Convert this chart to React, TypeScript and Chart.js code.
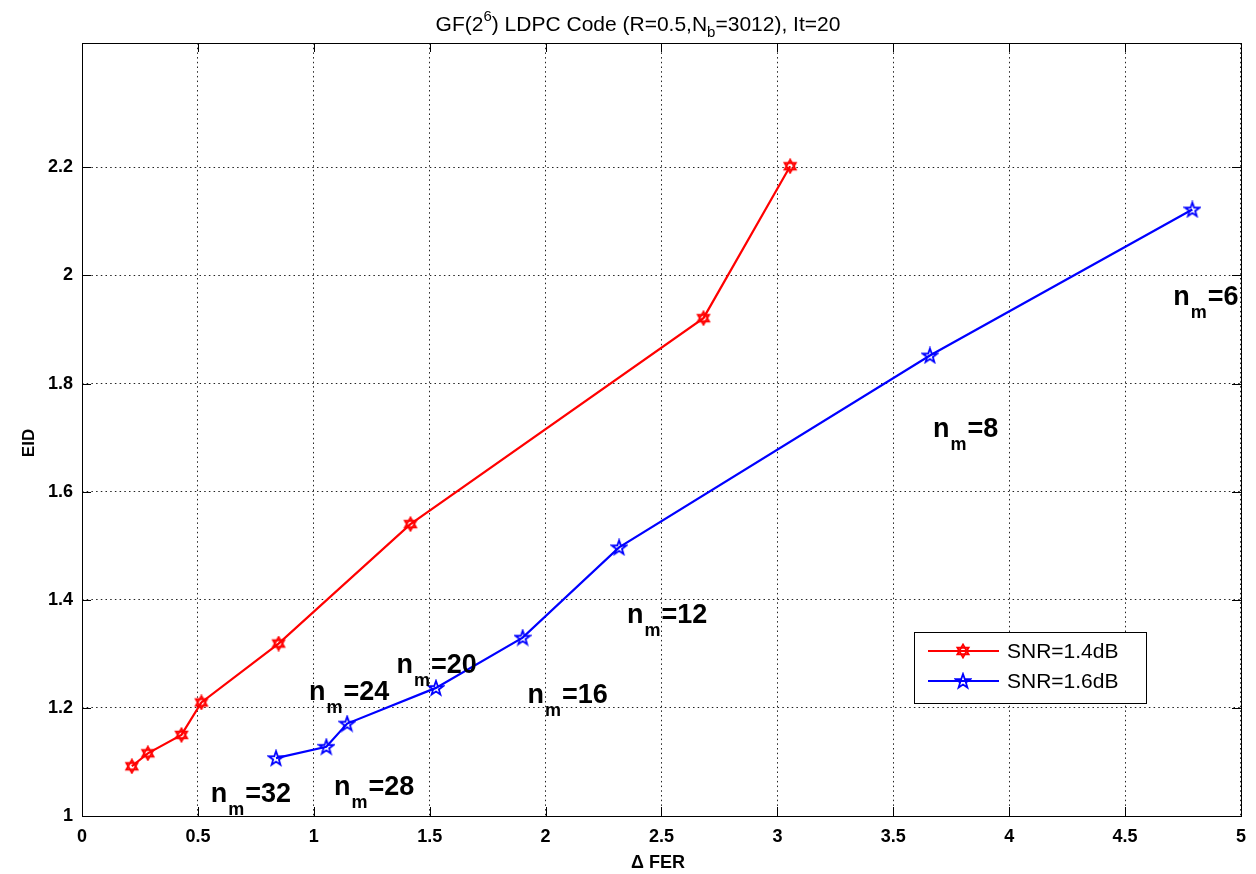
import React, { useEffect, useRef } from 'react';
import { Chart, registerables } from 'chart.js';

Chart.register(...registerables);

// ---- data ----
const seriesLabels = ['SNR=1.4dB', 'SNR=1.6dB'];
const snr14X = [0.215, 0.284, 0.429, 0.515, 0.848, 1.417, 2.681, 3.055];
const snr14Y = [1.092, 1.116, 1.15, 1.21, 1.319, 1.54, 1.921, 2.202];
const snr16X = [0.837, 1.054, 1.144, 1.527, 1.901, 2.317, 3.658, 4.79];
const snr16Y = [1.107, 1.128, 1.171, 1.237, 1.33, 1.497, 1.852, 2.122];

const nmLabels = ['32', '28', '24', '20', '16', '12', '8', '6'];
const nmX = [0.555, 1.087, 0.979, 1.357, 1.922, 2.351, 3.671, 4.708];
const nmY = [1.026, 1.039, 1.214, 1.264, 1.209, 1.357, 1.701, 1.945];

const xMin = 0;
const xMax = 5;
const xStep = 0.5;
const yMin = 1;
const yMax = 2.43;
const yStep = 0.2;
const yLastTick = 2.2;

const FONT = '"Liberation Sans", Arial, Helvetica, sans-serif';

function makeHexagram(color: string): HTMLCanvasElement {
  const c = document.createElement('canvas');
  c.width = 16;
  c.height = 16;
  const g = c.getContext('2d')!;
  g.strokeStyle = color;
  g.lineWidth = 1.8;
  const cx = 8, cy = 8, r = 6.5;
  for (let t = 0; t < 2; t++) {
    g.beginPath();
    for (let i = 0; i < 3; i++) {
      const a = -Math.PI / 2 + t * Math.PI + (i * 2 * Math.PI) / 3;
      const px = cx + r * Math.cos(a);
      const py = cy + r * Math.sin(a);
      if (i === 0) g.moveTo(px, py);
      else g.lineTo(px, py);
    }
    g.closePath();
    g.stroke();
  }
  return c;
}

function makePentagram(color: string): HTMLCanvasElement {
  const c = document.createElement('canvas');
  c.width = 18;
  c.height = 18;
  const g = c.getContext('2d')!;
  g.strokeStyle = color;
  g.lineWidth = 1.8;
  const cx = 9, cy = 9.5, ro = 7.5, ri = 3.0;
  g.beginPath();
  for (let i = 0; i < 10; i++) {
    const r = i % 2 === 0 ? ro : ri;
    const a = -Math.PI / 2 + (i * Math.PI) / 5;
    const px = cx + r * Math.cos(a);
    const py = cy + r * Math.sin(a);
    if (i === 0) g.moveTo(px, py);
    else g.lineTo(px, py);
  }
  g.closePath();
  g.stroke();
  return c;
}

export default function App() {
  const ref = useRef<HTMLCanvasElement | null>(null);

  useEffect(() => {
    document.body.style.margin = '0';
    const canvas = ref.current!;
    const redMarker = makeHexagram('#ff0000');
    const blueMarker = makePentagram('#0000ff');

    const decorPlugin = {
      id: 'decor',
      afterDraw(chart: any) {
        const ctx = chart.ctx as CanvasRenderingContext2D;
        const ca = chart.chartArea;
        const xs = chart.scales.x;
        const ys = chart.scales.y;
        ctx.save();

        // box
        ctx.strokeStyle = '#000';
        ctx.lineWidth = 1;
        ctx.strokeRect(ca.left + 0.5, ca.top + 0.5, ca.right - ca.left, ca.bottom - ca.top);

        // inward ticks
        const tl = 9;
        ctx.beginPath();
        xs.ticks.forEach((t: any) => {
          const px = Math.round(xs.getPixelForValue(t.value)) + 0.5;
          ctx.moveTo(px, ca.bottom);
          ctx.lineTo(px, ca.bottom - tl);
          ctx.moveTo(px, ca.top);
          ctx.lineTo(px, ca.top + tl);
        });
        ys.ticks.forEach((t: any) => {
          const py = Math.round(ys.getPixelForValue(t.value)) + 0.5;
          ctx.moveTo(ca.left, py);
          ctx.lineTo(ca.left + tl, py);
          ctx.moveTo(ca.right, py);
          ctx.lineTo(ca.right - tl, py);
        });
        ctx.stroke();

        ctx.fillStyle = '#000';
        ctx.textBaseline = 'alphabetic';

        // title with superscript / subscript
        const parts: [string, number, number][] = [
          ['GF(2', 21, 0],
          ['6', 15, -10],
          [') LDPC Code (R=0.5,N', 21, 0],
          ['b', 15, 6],
          ['=3012), It=20', 21, 0],
        ];
        let total = 0;
        parts.forEach(([s, f]) => {
          ctx.font = `${f}px ${FONT}`;
          total += ctx.measureText(s).width;
        });
        let tx = 638 - total / 2;
        const tBase = 31;
        ctx.textAlign = 'left';
        parts.forEach(([s, f, dy]) => {
          ctx.font = `${f}px ${FONT}`;
          ctx.fillText(s, tx, tBase + dy);
          tx += ctx.measureText(s).width;
        });

        // axis labels
        ctx.font = `bold 18px ${FONT}`;
        ctx.textAlign = 'center';
        ctx.fillText('\u0394 FER', 658, 868);
        ctx.save();
        ctx.translate(34, 443);
        ctx.rotate(-Math.PI / 2);
        ctx.font = `bold 17px ${FONT}`;
        ctx.fillText('EID', 0, 0);
        ctx.restore();

        // n_m annotations
        ctx.textAlign = 'left';
        nmLabels.forEach((lab, i) => {
          const x = xs.getPixelForValue(nmX[i]);
          const y = ys.getPixelForValue(nmY[i]);
          ctx.font = `bold 27px ${FONT}`;
          ctx.fillText('n', x, y);
          const wn = ctx.measureText('n').width;
          ctx.font = `bold 18px ${FONT}`;
          ctx.fillText('m', x + wn + 1, y + 13);
          const wm = ctx.measureText('m').width;
          ctx.font = `bold 27px ${FONT}`;
          ctx.fillText('=' + lab, x + wn + wm + 2, y);
        });

        // legend
        const lx0 = 914, ly0 = 632, lx1 = 1146, ly1 = 703;
        ctx.fillStyle = '#fff';
        ctx.fillRect(lx0, ly0, lx1 - lx0, ly1 - ly0);
        ctx.strokeStyle = '#000';
        ctx.lineWidth = 1;
        ctx.strokeRect(lx0 + 0.5, ly0 + 0.5, lx1 - lx0, ly1 - ly0);
        const rows = [651, 681];
        const cols = ['#ff0000', '#0000ff'];
        const marks = [redMarker, blueMarker];
        rows.forEach((ry, i) => {
          ctx.strokeStyle = cols[i];
          ctx.lineWidth = 2.2;
          ctx.beginPath();
          ctx.moveTo(928, ry);
          ctx.lineTo(999, ry);
          ctx.stroke();
          const m = marks[i];
          ctx.drawImage(m, 963 - m.width / 2, ry - m.height / 2);
          ctx.fillStyle = '#000';
          ctx.font = `21px ${FONT}`;
          ctx.textBaseline = 'middle';
          ctx.fillText(seriesLabels[i], 1007, ry + 1);
          ctx.textBaseline = 'alphabetic';
        });

        ctx.restore();
      },
    };

    const fmt = (v: number) => String(Number(Number(v).toFixed(2)));

    const chart = new Chart(canvas, {
      type: 'scatter',
      data: {
        datasets: [
          {
            label: seriesLabels[0],
            data: snr14X.map((x, i) => ({ x, y: snr14Y[i] })),
            showLine: true,
            borderColor: '#ff0000',
            borderWidth: 2.2,
            pointStyle: redMarker as any,
            pointRadius: 7,
            backgroundColor: '#ff0000',
          },
          {
            label: seriesLabels[1],
            data: snr16X.map((x, i) => ({ x, y: snr16Y[i] })),
            showLine: true,
            borderColor: '#0000ff',
            borderWidth: 2.2,
            pointStyle: blueMarker as any,
            pointRadius: 7,
            backgroundColor: '#0000ff',
          },
        ],
      },
      options: {
        animation: false,
        responsive: false,
        maintainAspectRatio: false,
        layout: { padding: { top: 43, right: 8, left: 0, bottom: 0 } },
        plugins: {
          legend: { display: false },
          title: { display: false },
          tooltip: { enabled: false },
        },
        scales: {
          x: {
            type: 'linear',
            min: xMin,
            max: xMax,
            ticks: {
              stepSize: xStep,
              autoSkip: false,
              maxRotation: 0,
              padding: 10,
              color: '#000',
              font: { family: FONT, size: 18, weight: 'bold' },
              callback: (v: any) => fmt(v),
            },
            grid: { color: '#222', lineWidth: 1, drawTicks: false },
            border: { display: false, dash: [1.5, 3.2] },
            afterFit: (s: any) => {
              s.height = 58;
            },
          },
          y: {
            type: 'linear',
            min: yMin,
            max: yMax,
            ticks: {
              stepSize: yStep,
              autoSkip: false,
              padding: 9,
              color: '#000',
              font: { family: FONT, size: 18, weight: 'bold' },
              callback: (v: any) => fmt(v),
            },
            afterBuildTicks: (s: any) => {
              s.ticks = s.ticks.filter((t: any) => t.value <= yLastTick + 1e-6);
            },
            grid: { color: '#222', lineWidth: 1, drawTicks: false },
            border: { display: false, dash: [1.5, 3.2] },
            afterFit: (s: any) => {
              s.width = 82;
            },
          },
        },
      },
      plugins: [decorPlugin],
    } as any);

    return () => chart.destroy();
  }, []);

  return (
    <div style={{ width: 1256, height: 874, background: '#fff' }}>
      <canvas ref={ref} width={1256} height={874} style={{ display: 'block' }} />
    </div>
  );
}
